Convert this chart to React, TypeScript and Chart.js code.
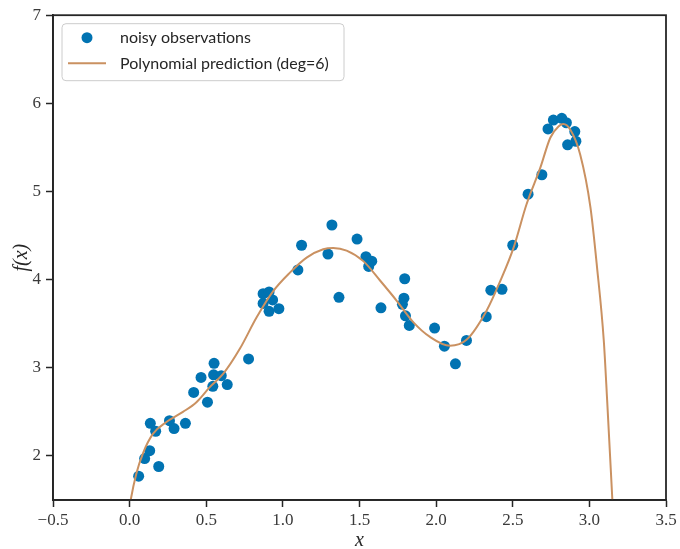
import React, { useEffect, useRef } from 'react';
import { Chart, registerables } from 'chart.js';

Chart.register(...registerables);

const seriesLabels = ['noisy observations', 'Polynomial prediction (deg=6)'];

const obsX = [
  0.059, 0.098, 0.131, 0.135, 0.17, 0.19, 0.26, 0.29, 0.364, 0.418,
  0.466, 0.508, 0.551, 0.548, 0.543, 0.598, 0.637, 0.776, 0.871, 0.91,
  0.871, 0.933, 0.91, 0.974, 1.098, 1.122, 1.294, 1.32, 1.366, 1.484,
  1.542, 1.58, 1.56, 1.64, 1.795, 1.79, 1.78, 1.8, 1.825, 1.99,
  2.054, 2.126, 2.198, 2.327, 2.357, 2.43, 2.5, 2.6, 2.69, 2.73,
  2.765, 2.82, 2.85, 2.858, 2.905, 2.912,
];
const obsY = [
  1.77, 1.97, 2.06, 2.37, 2.28, 1.88, 2.4, 2.31, 2.37, 2.72,
  2.89, 2.61, 3.05, 2.92, 2.79, 2.91, 2.81, 3.1, 3.84, 3.86,
  3.73, 3.77, 3.64, 3.67, 4.11, 4.39, 4.29, 4.62, 3.8, 4.46,
  4.26, 4.21, 4.15, 3.68, 4.01, 3.79, 3.72, 3.59, 3.48, 3.45,
  3.245, 3.045, 3.31, 3.58, 3.88, 3.89, 4.39, 4.97, 5.19, 5.71,
  5.81, 5.83, 5.78, 5.53, 5.68, 5.57,
];

const curveX = [
  -0.02, 0.007, 0.044, 0.087, 0.152, 0.24, 0.348, 0.436, 0.523, 0.61,
  0.719, 0.828, 0.937, 1.046, 1.155, 1.263, 1.329, 1.416, 1.525, 1.634,
  1.743, 1.852, 1.96, 2.09, 2.2, 2.33, 2.42, 2.505, 2.59, 2.68,
  2.745, 2.8, 2.83, 2.876, 2.94, 3.007, 3.05, 3.094, 3.116, 3.15, 3.18,
];
const curveY = [
  1.2, 1.5, 1.8, 2.03, 2.25, 2.385, 2.5, 2.61, 2.78, 2.93,
  3.215, 3.57, 3.87, 4.08, 4.25, 4.345, 4.36, 4.33, 4.21, 3.99,
  3.76, 3.515, 3.35, 3.25, 3.32, 3.65, 3.99, 4.36, 4.855, 5.27,
  5.61, 5.74, 5.765, 5.7, 5.42, 4.82, 4.14, 3.31, 2.63, 1.5, 0.5,
];

const xTicks = [-0.5, 0, 0.5, 1, 1.5, 2, 2.5, 3, 3.5];
const yTicks = [2, 3, 4, 5, 6, 7];

const BLUE = '#0173b2';
const TAN = '#ca9161';
const DARK = '#262626';
const SERIF = '"Liberation Serif", "DejaVu Serif", serif';
const SANS = 'Lato, "Open Sans", "DejaVu Sans", sans-serif';

const framePlugin = {
  id: 'frame',
  afterDatasetsDraw(chart: any) {
    const { ctx, chartArea } = chart;
    ctx.save();
    ctx.strokeStyle = DARK;
    ctx.lineWidth = 1.8;
    ctx.strokeRect(chartArea.left, chartArea.top, chartArea.right - chartArea.left, chartArea.bottom - chartArea.top);
    ctx.restore();
  },
};

const legendPlugin = {
  id: 'insideLegend',
  afterDraw(chart: any) {
    const { ctx, chartArea } = chart;
    const ds = chart.data.datasets;
    const x0 = chartArea.left + 9;
    const y0 = chartArea.top + 8.5;
    const w = 282;
    const h = 57;
    ctx.save();
    ctx.beginPath();
    ctx.roundRect(x0, y0, w, h, 4);
    ctx.fillStyle = 'rgba(255,255,255,0.8)';
    ctx.fill();
    ctx.strokeStyle = '#cccccc';
    ctx.lineWidth = 1;
    ctx.stroke();
    ctx.font = '16px ' + SANS;
    ctx.fillStyle = DARK;
    ctx.textBaseline = 'middle';
    ctx.textAlign = 'left';
    const r1 = y0 + 14;
    ctx.beginPath();
    ctx.arc(x0 + 25, r1, 5.5, 0, Math.PI * 2);
    ctx.fillStyle = ds[0].backgroundColor;
    ctx.fill();
    ctx.fillStyle = DARK;
    ctx.fillText(ds[0].label, x0 + 58, r1 + 0.5);
    const r2 = y0 + 39.5;
    ctx.beginPath();
    ctx.moveTo(x0 + 6, r2);
    ctx.lineTo(x0 + 44, r2);
    ctx.strokeStyle = ds[1].borderColor;
    ctx.lineWidth = 2;
    ctx.stroke();
    ctx.fillStyle = DARK;
    ctx.fillText(ds[1].label, x0 + 58, r2 + 0.5);
    ctx.restore();
  },
};

export default function App() {
  const ref = useRef<HTMLCanvasElement>(null);

  useEffect(() => {
    if (!ref.current) return;
    const chart = new Chart(ref.current, {
      type: 'scatter',
      data: {
        datasets: [
          {
            type: 'scatter',
            label: seriesLabels[0],
            data: obsX.map((x, i) => ({ x, y: obsY[i] })),
            backgroundColor: BLUE,
            borderWidth: 0,
            pointRadius: 5.5,
            order: 2,
          },
          {
            type: 'line',
            label: seriesLabels[1],
            data: curveX.map((x, i) => ({ x, y: curveY[i] })),
            borderColor: TAN,
            backgroundColor: TAN,
            borderWidth: 2,
            pointRadius: 0,
            cubicInterpolationMode: 'monotone',
            fill: false,
            order: 1,
          } as any,
        ],
      },
      options: {
        responsive: false,
        animation: false,
        events: [],
        layout: { padding: { left: 0, right: 14, top: 13.5, bottom: 0 } },
        plugins: {
          legend: { display: false },
          tooltip: { enabled: false },
        },
        scales: {
          x: {
            type: 'linear',
            min: -0.5,
            max: 3.5,
            afterBuildTicks: (s: any) => {
              s.ticks = xTicks.map((v) => ({ value: v }));
            },
            afterFit: (s: any) => {
              s.height = 49;
            },
            ticks: {
              callback: (v: any) => Number(v).toFixed(1).replace('-', '\u2212'),
              font: { family: SERIF, size: 17 },
              color: '#3a3a3a',
              padding: 3,
              maxRotation: 0,
            },
            grid: {
              display: true,
              drawOnChartArea: false,
              drawTicks: true,
              tickLength: 7,
              tickWidth: 1.5,
              tickColor: DARK,
            },
            border: { display: true, color: DARK, width: 1.8 },
            title: {
              display: true,
              text: 'x',
              font: { family: SERIF, size: 20, style: 'italic', lineHeight: 1 },
              color: DARK,
              padding: { top: 0, bottom: -2 },
            },
          },
          y: {
            type: 'linear',
            min: 1.5,
            max: 7,
            afterBuildTicks: (s: any) => {
              s.ticks = yTicks.map((v) => ({ value: v }));
            },
            afterFit: (s: any) => {
              s.width = 53;
            },
            ticks: {
              callback: (v: any) => String(v),
              font: { family: SERIF, size: 17 },
              color: '#3a3a3a',
              padding: 5,
            },
            grid: {
              display: true,
              drawOnChartArea: false,
              drawTicks: true,
              tickLength: 7,
              tickWidth: 1.5,
              tickColor: DARK,
            },
            border: { display: true, color: DARK, width: 1.8 },
            title: {
              display: true,
              text: 'f(x)',
              font: { family: SERIF, size: 20, style: 'italic', lineHeight: 1 },
              color: DARK,
              padding: { top: 12, bottom: 0 },
            },
          },
        },
      },
      plugins: [framePlugin, legendPlugin],
    });
    return () => chart.destroy();
  }, []);

  return (
    <div style={{ position: 'absolute', left: 0, top: 0, width: 680, height: 549, background: '#fff' }}>
      <canvas ref={ref} width={680} height={549} style={{ display: 'block' }} />
    </div>
  );
}
